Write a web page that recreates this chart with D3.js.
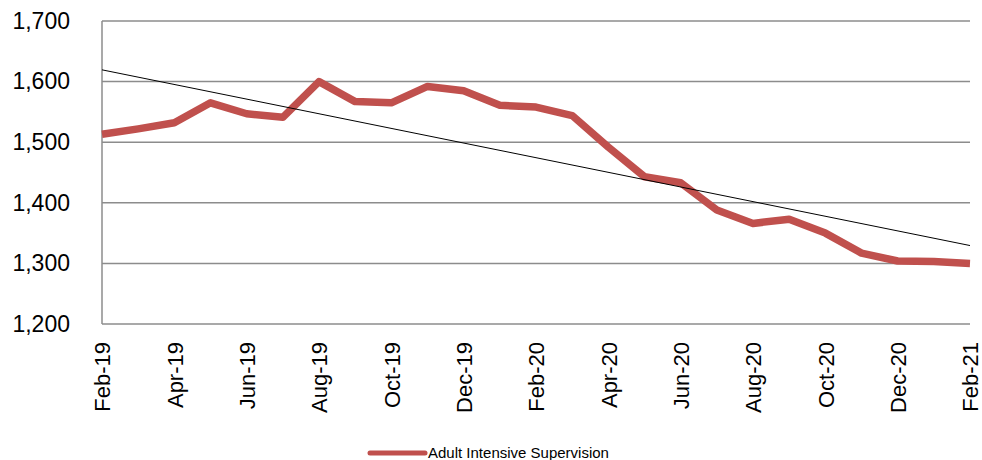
<!DOCTYPE html>
<html>
<head>
<meta charset="utf-8">
<script src="https://cdn.jsdelivr.net/npm/d3@7"></script>
<style>
  body { margin: 0; background: #fff; }
  text { font-family: "Liberation Sans", Arial, sans-serif; fill: #000; }
</style>
</head>
<body>
<div id="container"></div>
<script>
// months shown on the category axis
var months = ["Feb-19","Mar-19","Apr-19","May-19","Jun-19","Jul-19","Aug-19","Sep-19","Oct-19","Nov-19","Dec-19","Jan-20",
	"Feb-20","Mar-20","Apr-20","May-20","Jun-20","Jul-20","Aug-20","Sep-20","Oct-20","Nov-20","Dec-20","Jan-21","Feb-21"];

// caseload values
var supervision = [1513, 1522, 1532, 1565, 1547, 1541, 1600, 1567, 1565, 1592, 1585, 1561,
	1558, 1544, 1492, 1443, 1433, 1388, 1366, 1373, 1350, 1317, 1304, 1303, 1300];

var yTicks = [1200, 1300, 1400, 1500, 1600, 1700];
var seriesName = "Adult Intensive Supervision";

var svg = d3.select("#container").append("svg")
	.attr("width", 982)
	.attr("height", 460);

var x = d3.scalePoint().domain(months).range([102, 970]);
var y = d3.scaleLinear().domain([1200, 1700]).range([324, 21]);

// gridlines
svg.append("g")
	.selectAll("line")
	.data(yTicks)
	.enter()
	.append("line")
		.attr("x1", 102)
		.attr("x2", 970)
		.attr("y1", (d) => y(d))
		.attr("y2", (d) => y(d))
		.attr("stroke", "#8c8c8c")
		.attr("stroke-width", 1.5);

// left axis line
svg.append("line")
	.attr("x1", 102).attr("x2", 102)
	.attr("y1", y(1700)).attr("y2", y(1200))
	.attr("stroke", "#8c8c8c")
	.attr("stroke-width", 1.5);

// y labels
var yAxis = d3.axisLeft(y)
	.tickValues(yTicks)
	.tickFormat(d3.format(","))
	.tickSize(0)
	.tickPadding(32);
svg.append("g")
	.attr("transform", "translate(102,0)")
	.call(yAxis)
	.call((g) => g.select(".domain").remove())
	.selectAll("text")
		.style("font-size", "23px")
		.style("font-family", "'Liberation Sans', Arial, sans-serif")
		.attr("fill", "#000");

// x labels, every second month
var xAxis = d3.axisBottom(x)
	.tickValues(months.filter((d, i) => i % 2 === 0))
	.tickSize(0);
svg.append("g")
	.attr("transform", "translate(0,324)")
	.call(xAxis)
	.call((g) => g.select(".domain").remove())
	.selectAll("text")
		.style("font-size", "22px")
		.style("font-family", "'Liberation Sans', Arial, sans-serif")
		.attr("fill", "#000")
		.attr("text-anchor", "end")
		.attr("transform", "rotate(-90)")
		.attr("x", -18)
		.attr("y", 0)
		.attr("dy", "0.36em");

// series line
var line = d3.line()
	.x((d, i) => x(months[i]))
	.y((d) => y(d));

svg.append("path")
	.datum(supervision)
	.attr("d", line)
	.attr("fill", "none")
	.attr("stroke", "#c0504d")
	.attr("stroke-width", 7.5)
	.attr("stroke-linejoin", "round");

// linear trendline (least squares over the series)
var n = supervision.length;
var mx = d3.mean(supervision, (d, i) => i);
var my = d3.mean(supervision);
var slope = d3.sum(supervision, (d, i) => (i - mx) * (d - my)) / d3.sum(supervision, (d, i) => (i - mx) * (i - mx));
var icpt = my - slope * mx;
svg.append("line")
	.attr("x1", x(months[0]))
	.attr("x2", x(months[n - 1]))
	.attr("y1", y(icpt))
	.attr("y2", y(icpt + slope * (n - 1)))
	.attr("stroke", "#000")
	.attr("stroke-width", 1);

// legend
var legend = svg.append("g").attr("transform", "translate(370,453)");
legend.append("line")
	.attr("x1", 0).attr("x2", 55)
	.attr("stroke", "#c0504d")
	.attr("stroke-width", 5)
	.attr("stroke-linecap", "round");
legend.append("text")
	.attr("x", 58)
	.attr("dy", "0.35em")
	.style("font-size", "15px")
	.text(seriesName);
</script>
</body>
</html>
